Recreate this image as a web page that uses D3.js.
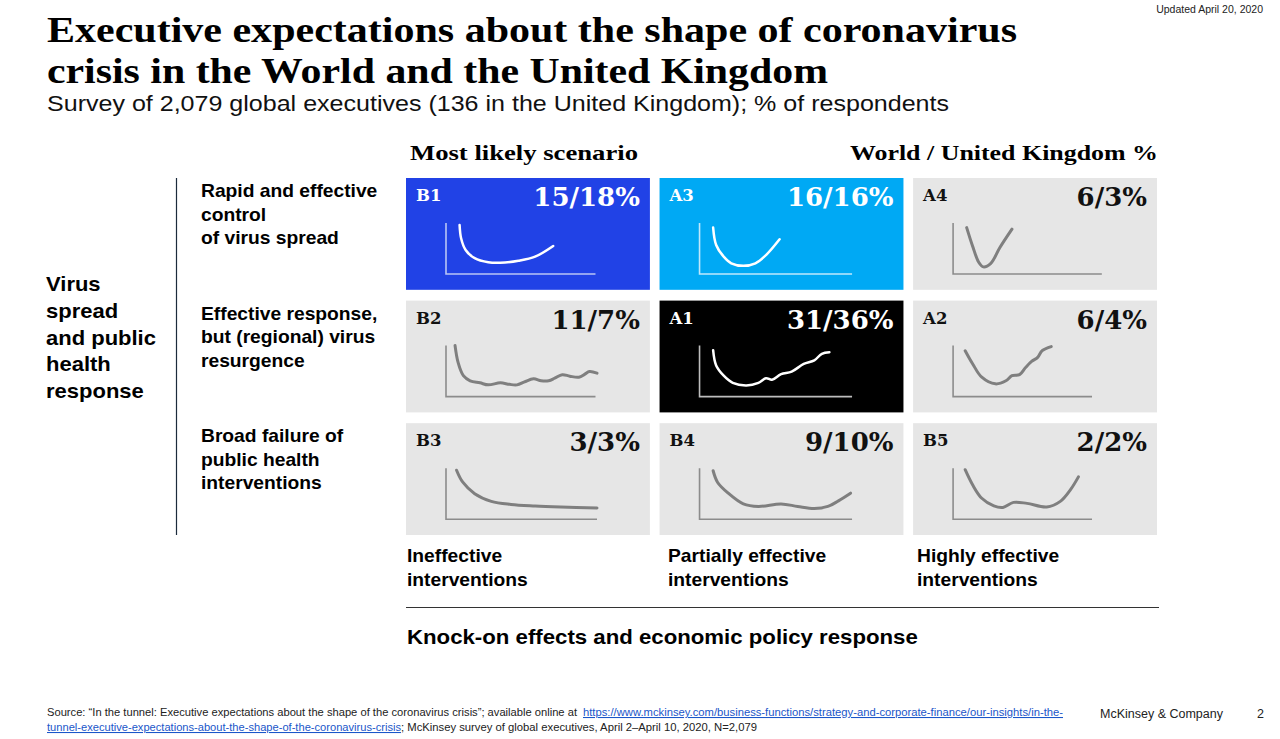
<!DOCTYPE html>
<html><head><meta charset="utf-8">
<script src="https://cdn.jsdelivr.net/npm/d3@7"></script>
<style>body{margin:0;background:#fff}svg{display:block}</style>
</head><body><svg id="c" width="1280" height="739"></svg>
<script>
// ---------- data ----------
const scenarioCodes = ["B1","A3","A4","B2","A1","A2","B3","B4","B5"];
const worldPct = [15,16,6,11,31,6,3,9,2];
const ukPct    = [18,16,3,7,36,4,3,10,2];
const rowLabels = [["Rapid and effective","control","of virus spread"],
                   ["Effective response,","but (regional) virus","resurgence"],
                   ["Broad failure of","public health","interventions"]];
const colLabels = [["Ineffective","interventions"],["Partially effective","interventions"],["Highly effective","interventions"]];
const groupLabel = ["Virus","spread","and public","health","response"];

// curve shapes: [time, activity] read from the sketches (0-100 scale)
const curveB1 = [[9,96],[10,70],[13,47],[19,31],[28,23],[36,22],[48,26],[59,34],[71,55]];
const curveA3 = [[9,91],[11,57],[16,34],[21,21],[29,16],[37,21],[44,37],[53,68]];
const curveA4 = [[9,91],[13,54],[17,23],[20,14],[25,21],[31,52],[39,88]];
const curveB2 = [[6,100],[8,67],[11.5,41],[16,31],[22.5,27],[28,23],[36,27],[42,24],[47,23],[52,29],[58,35],[63,31],[68,31],[72,36],[77,43],[82,40],[88,38],[92,44],[95,49],[100,46]];
const curveA1 = [[9,91],[11,61],[16,41],[22,27],[31,22],[39,27],[44,36],[48,33],[54,44],[61,49],[69,64],[76,71],[81,84],[86,87]];
const curveA2 = [[8,90],[13,64],[19,38],[28,25],[35,31],[39,41],[44,43],[48,57],[52,69],[56,77],[59,90],[65,98]];
const curveB3 = [[7,96],[11,73],[19,50],[30,35],[43,29],[59,26],[76,24],[100,22]];
const curveB4 = [[9,95],[12,72],[19,51],[29,30],[39,25],[54,30],[65,25],[76,21],[85,25],[92,36],[100,51]];
const curveB5 = [[8,97],[13,67],[19,41],[27,26],[33,23],[40,33],[49,31],[62,24],[71,35],[78,59],[83,83]];
const axisEnd = [99,101,98.5,99,101,92,100,101,92];

const curveByCode = {B1:curveB1,A3:curveA3,A4:curveA4,B2:curveB2,A1:curveA1,A2:curveA2,B3:curveB3,B4:curveB4,B5:curveB5};

// ---------- styles ----------
const cellStyle = {
  B1:{fill:"#2142E6", text:"#fff", line:"#fff", axis:"#b9c5f5", lw:2.5},
  A3:{fill:"#00A9F4", text:"#fff", line:"#fff", axis:"#bfe7fb", lw:2.5},
  A1:{fill:"#000000", text:"#fff", line:"#fff", axis:"#bdbdbd", lw:2.5}
};
const greyStyle = {fill:"#E6E6E6", text:"#111", line:"#7f7f7f", axis:"#8c8c8c", lw:3};
const SANS = "'Liberation Sans', Arial, sans-serif";
const SERIF = "'Liberation Serif', 'Times New Roman', serif";
const DSERIF = "'DejaVu Serif', serif";

const svg = d3.select("#c");

function txt(parent, x, y, s, o={}) {
  const t = parent.append("text")
    .attr("transform", `translate(${x},${y}) scale(${o.sx||1},1)`)
    .attr("font-family", o.font||SANS)
    .attr("font-size", o.size||12)
    .attr("font-weight", o.weight||"normal")
    .attr("fill", o.fill||"#000")
    .attr("text-anchor", o.anchor||"start")
    .text(s);
  if (o.len) t.attr("textLength", o.len).attr("lengthAdjust","spacingAndGlyphs");
  return t;
}

// ---------- header ----------
txt(svg, 1263, 13, "Updated April 20, 2020", {size:10.5, anchor:"end", fill:"#222"});
txt(svg, 47, 42, "Executive expectations about the shape of coronavirus", {font:SERIF, size:36, weight:"bold", len:970});
txt(svg, 47, 83, "crisis in the World and the United Kingdom", {font:SERIF, size:36, weight:"bold", len:781});
txt(svg, 47, 111, "Survey of 2,079 global executives (136 in the United Kingdom); % of respondents", {size:22, len:902, fill:"#111"});

// ---------- grid scales ----------
const colX = d3.scaleBand().domain([0,1,2]).range([406,1157]).paddingInner(0.038);
const rowY = d3.scaleBand().domain([0,1,2]).range([178,535]).paddingInner(0.088);

txt(svg, 410, 160, "Most likely scenario", {font:SERIF, size:22, weight:"bold", len:228});
txt(svg, 850, 160, "World / United Kingdom %", {font:SERIF, size:22, weight:"bold", len:308});

// row labels
rowLabels.forEach((lines,r) => {
  lines.forEach((l,i) => txt(svg, 201, rowY(r)+19+i*23.5, l, {size:17.5, weight:"bold", sx:1.1}));
});
// group label
groupLabel.forEach((l,i) => txt(svg, 46, 291+i*26.8, l, {size:20, weight:"bold", sx:1.1}));
// vertical divider
svg.append("line").attr("x1",176.5).attr("x2",176.5).attr("y1",178).attr("y2",535)
  .attr("stroke","#1c2b3c").attr("stroke-width",1.2);

// ---------- cells ----------
const line = d3.line().curve(d3.curveCatmullRom.alpha(0.5));
scenarioCodes.forEach((code,i) => {
  const r = Math.floor(i/3), c = i%3;
  const st = cellStyle[code] || greyStyle;
  const cx = colX(c), cy = rowY(r), w = colX.bandwidth(), h = rowY.bandwidth();
  const g = svg.append("g");
  g.append("rect").attr("x",cx).attr("y",cy).attr("width",w).attr("height",h).attr("fill",st.fill);
  txt(g, cx+10, cy+23, code, {font:DSERIF, size:16.5, weight:"bold", fill:st.text});
  txt(g, cx+w-10, cy+28, `${worldPct[i]}/${ukPct[i]}%`, {font:DSERIF, size:26, weight:"bold", fill:st.text, anchor:"end"});
  const x = d3.scaleLinear().domain([0,100]).range([cx+40, cx+191]);
  const y = d3.scaleLinear().domain([0,100]).range([cy+96, cy+45]);
  g.append("path").attr("d", `M${x(0)},${y(100)}V${y(0)}H${x(axisEnd[i])}`)
    .attr("fill","none").attr("stroke",st.axis).attr("stroke-width",1.6);
  g.append("path").attr("d", line(curveByCode[code].map(p => [x(p[0]), y(p[1])])))
    .attr("fill","none").attr("stroke",st.line).attr("stroke-width",st.lw)
    .attr("stroke-linecap","round").attr("stroke-linejoin","round");
});

// column labels
colLabels.forEach((lines,c) => {
  const xs = [407,668,917][c];
  lines.forEach((l,i) => txt(svg, xs, 562+i*23.5, l, {size:17.5, weight:"bold", sx:1.1}));
});
svg.append("line").attr("x1",406).attr("x2",1159).attr("y1",607.5).attr("y2",607.5)
  .attr("stroke","#333").attr("stroke-width",1.2);
txt(svg, 407, 644, "Knock-on effects and economic policy response", {size:20.2, weight:"bold", sx:1.1});

// ---------- footer ----------
const LINK = "#1a56c9";
txt(svg, 47, 716, "Source: \u201cIn the tunnel: Executive expectations about the shape of the coronavirus crisis\u201d; available online at", {size:10.5, len:530, fill:"#222"});
txt(svg, 583, 716, "https://www.mckinsey.com/business-functions/strategy-and-corporate-finance/our-insights/in-the-", {size:10.5, len:480, fill:LINK}).attr("text-decoration","underline");
txt(svg, 47, 731, "tunnel-executive-expectations-about-the-shape-of-the-coronavirus-crisis", {size:10.5, len:354, fill:LINK}).attr("text-decoration","underline");
txt(svg, 401, 731, "; McKinsey survey of global executives, April 2\u2013April 10, 2020, N=2,079", {size:10.5, len:356, fill:"#222"});
txt(svg, 1100, 718, "McKinsey & Company", {size:12.5, fill:"#222"});
txt(svg, 1257, 718, "2", {size:12.5, fill:"#222"});
</script></body></html>
